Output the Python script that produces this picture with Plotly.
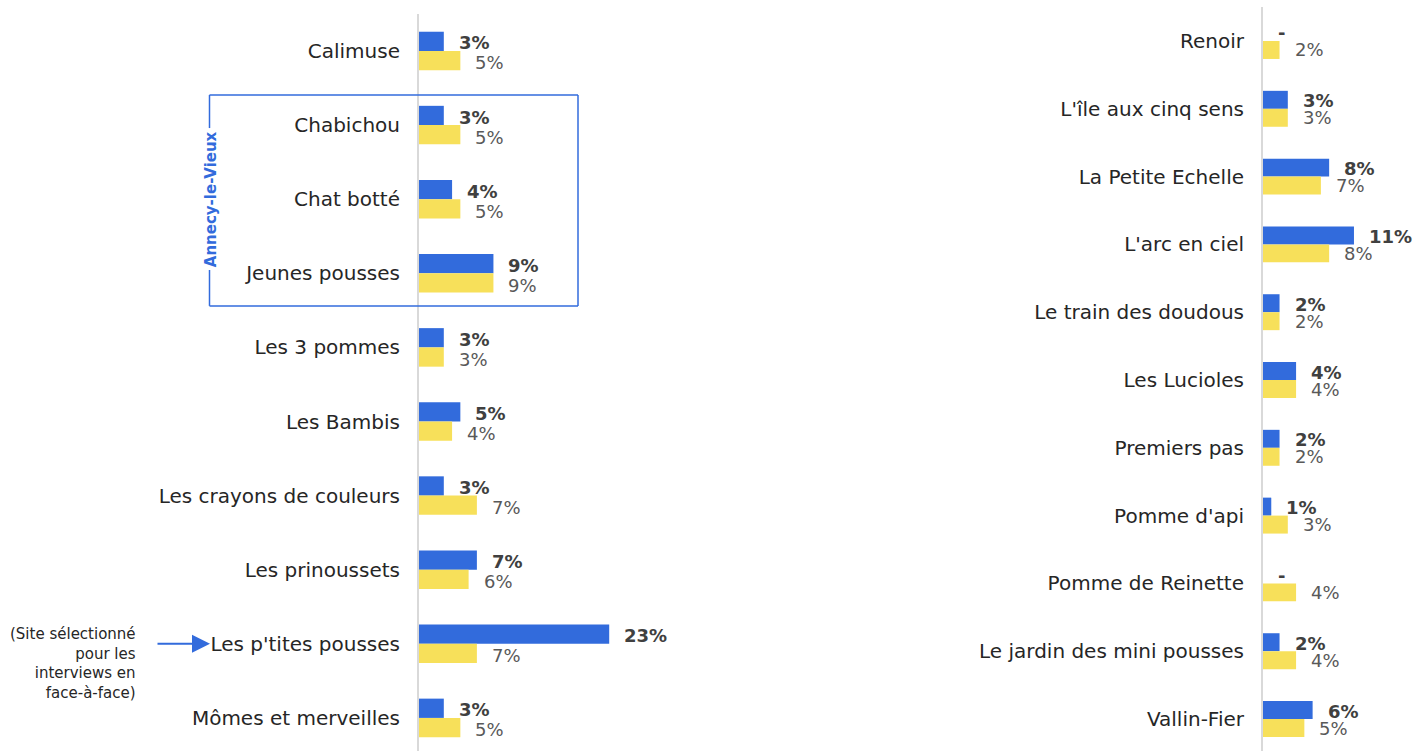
import plotly.graph_objects as go

W, H = 1415, 751

left_cats = ["Calimuse", "Chabichou", "Chat botté", "Jeunes pousses", "Les 3 pommes",
             "Les Bambis", "Les crayons de couleurs", "Les prinoussets",
             "Les p'tites pousses", "Mômes et merveilles"]
left_blue = [3, 3, 4, 9, 3, 5, 3, 7, 23, 3]
left_yellow = [5, 5, 5, 9, 3, 4, 7, 6, 7, 5]

right_cats = ["Renoir", "L'île aux cinq sens", "La Petite Echelle", "L'arc en ciel",
              "Le train des doudous", "Les Lucioles", "Premiers pas", "Pomme d'api",
              "Pomme de Reinette", "Le jardin des mini pousses", "Vallin-Fier"]
right_blue = [0, 3, 8, 11, 2, 4, 2, 1, 0, 2, 6]
right_yellow = [2, 3, 7, 8, 2, 4, 2, 3, 4, 4, 5]

BLUE = "#326BDC"
YELLOW = "#F7E05A"
FONT = "DejaVu Sans"
PXU = 8.27  # pixels per percent

def px(x):
    return x / W

fig = go.Figure()

def add_panel(cats, blue, yellow, xa, ya, width):
    fig.add_trace(go.Bar(y=cats, x=blue, orientation="h", marker_color=BLUE,
                         marker_line_width=0, width=width, offset=-width,
                         xaxis=xa, yaxis=ya, showlegend=False, hoverinfo="x+y"))
    fig.add_trace(go.Bar(y=cats, x=yellow, orientation="h", marker_color=YELLOW,
                         marker_line_width=0, width=width, offset=0,
                         xaxis=xa, yaxis=ya, showlegend=False, hoverinfo="x+y"))

add_panel(left_cats, left_blue, left_yellow, "x", "y", 0.26)
add_panel(right_cats, right_blue, right_yellow, "x2", "y2", 0.265)

ann = []
def add_labels(cats, blue, yellow, xa, ya, ys_blue, ys_yel):
    for c, b, yv in zip(cats, blue, yellow):
        ann.append(dict(x=b, y=c, xref=xa, yref=ya, xanchor="left", yanchor="middle",
                        xshift=13, yshift=ys_blue, showarrow=False,
                        text="<b>%s</b>" % (f"{b}%" if b > 0 else "-"),
                        font=dict(family=FONT, size=18, color="#404040")))
        ann.append(dict(x=yv, y=c, xref=xa, yref=ya, xanchor="left", yanchor="middle",
                        xshift=13, yshift=ys_yel, showarrow=False, text=f"{yv}%",
                        font=dict(family=FONT, size=18, color="#595959")))

add_labels(left_cats, left_blue, left_yellow, "x", "y", 8, -12)
add_labels(right_cats, right_blue, right_yellow, "x2", "y2", 8, -9)

# Annecy-le-Vieux group label
ann.append(dict(x=px(211), xref="paper", y=2.0, yref="y", text="<b>Annecy-le-Vieux</b>",
                textangle=-90, showarrow=False, xanchor="center", yanchor="middle",
                font=dict(family=FONT, size=15, color=BLUE)))
# arrow and note
ann.append(dict(x=px(210), xref="paper", y="Les p'tites pousses", yref="y", ax=-54, ay=0,
                axref="pixel", ayref="pixel", text="", showarrow=True, arrowhead=2,
                arrowsize=1.8, arrowwidth=2, arrowcolor=BLUE))
ann.append(dict(x=px(138), xref="paper", y="Les p'tites pousses", yref="y", yshift=-20,
                xanchor="right", yanchor="middle", align="right", showarrow=False,
                text="(Site sélectionné<br>pour les<br>interviews en<br>face-à-face)",
                font=dict(family=FONT, size=15, color="#262626")))

box = dict(type="line", xref="paper", yref="y", line=dict(color=BLUE, width=1.5))
x0b, x1b = px(209.5), px(578)
y_top, y_bot = 0.594, 3.44
shapes = [
    dict(box, x0=x0b, x1=x1b, y0=y_top, y1=y_top),
    dict(box, x0=x0b, x1=x1b, y0=y_bot, y1=y_bot),
    dict(box, x0=x1b, x1=x1b, y0=y_top, y1=y_bot),
    dict(box, x0=x0b, x1=x0b, y0=y_top, y1=1.04),
    dict(box, x0=x0b, x1=x0b, y0=2.955, y1=y_bot),
]

lx0, lx1 = 419, 760
rx0, rx1 = 1263, 1415
tickfont = dict(family=FONT, size=20, color="#262626")

# left: y of category v = 51 + 74.1 v ; right: 41 + 67.8 v  (page px)
ltop, lbase = 14, 51
rtop, rbase = 7, 41

fig.update_layout(
    width=W, height=H, margin=dict(l=0, r=0, t=0, b=0),
    paper_bgcolor="white", plot_bgcolor="white", barmode="overlay",
    annotations=ann, shapes=shapes,
    xaxis=dict(domain=[px(lx0), px(lx1)], range=[0, (lx1 - lx0) / PXU], visible=False,
               fixedrange=True),
    yaxis=dict(domain=[0, 1 - ltop / H],
               range=[(H - lbase) / 74.1, -(lbase - ltop) / 74.1],
               type="category", showline=True, linecolor="#D9D9D9", linewidth=2,
               showgrid=False, zeroline=False, ticks="", ticklabelstandoff=13,
               tickfont=tickfont, automargin=False, anchor="x", fixedrange=True),
    xaxis2=dict(domain=[px(rx0), px(rx1)], range=[0, (rx1 - rx0) / PXU], visible=False,
                fixedrange=True, anchor="y2"),
    yaxis2=dict(domain=[0, 1 - rtop / H],
                range=[(H - rbase) / 67.8, -(rbase - rtop) / 67.8],
                type="category", showline=True, linecolor="#D9D9D9", linewidth=2,
                showgrid=False, zeroline=False, ticks="", ticklabelstandoff=13,
                tickfont=tickfont, automargin=False, anchor="x2", fixedrange=True),
)

fig.write_html("out.html", config={"displayModeBar": False},
               post_script="document.body.style.margin='0px';"
                           "document.body.style.overflow='hidden';")
